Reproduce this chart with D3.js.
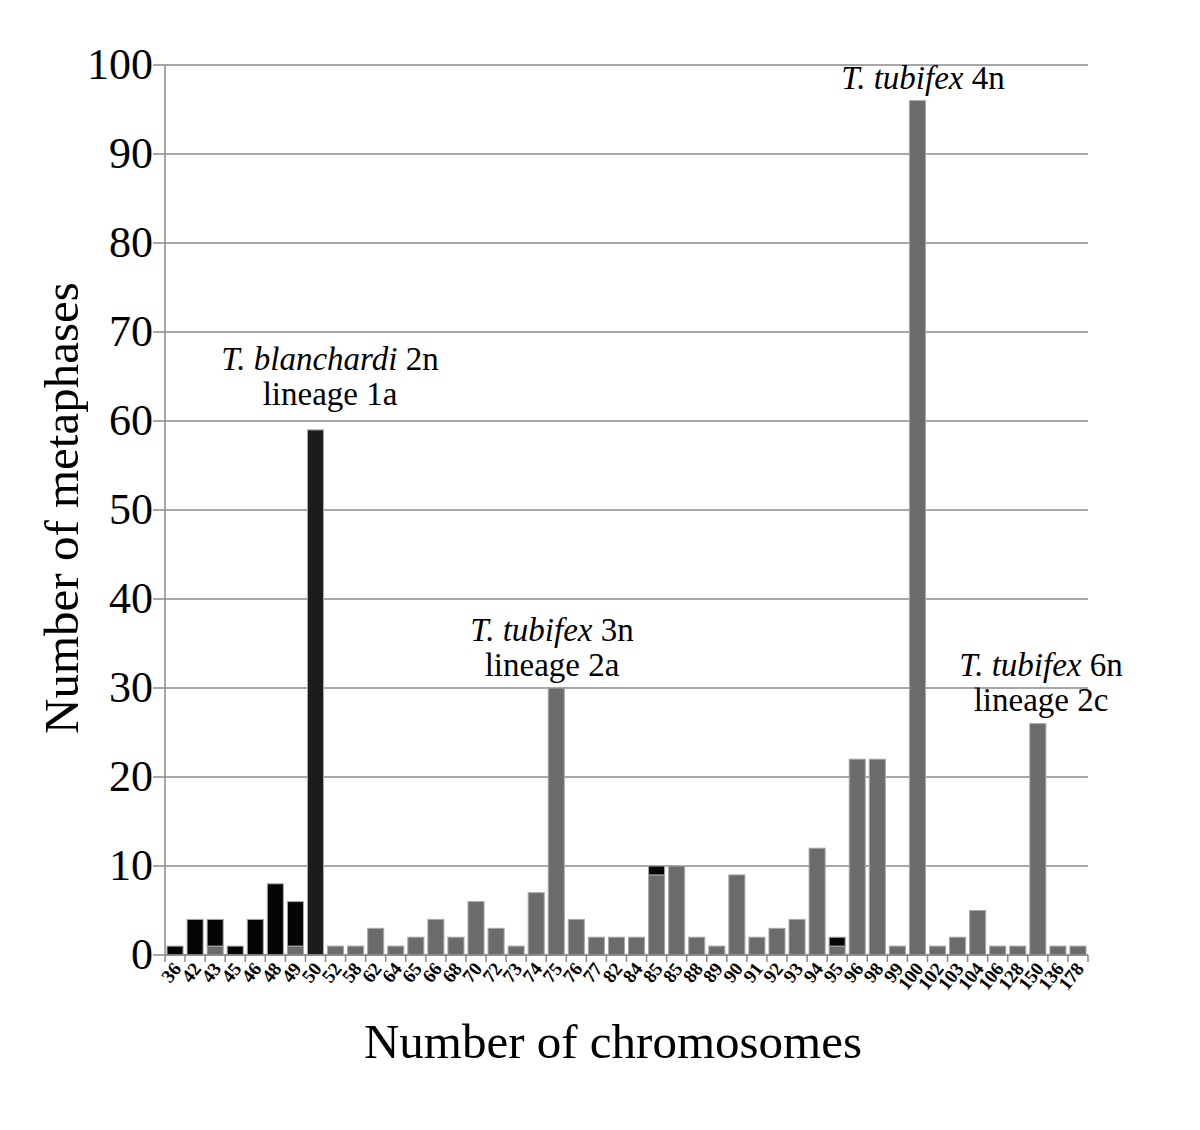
<!DOCTYPE html>
<html>
<head>
<meta charset="utf-8">
<script src="https://cdn.jsdelivr.net/npm/d3@7"></script>
<style>
body { margin: 0; background: #fff; }
text { font-family: "Liberation Serif", "Times New Roman", serif; }
</style>
</head>
<body>
<svg id="svg"></svg>
<script>
var width = 1200, height = 1130;

// chromosome counts as printed on the axis (85 appears twice)
var categories = ["36","42","43","45","46","48","49","50","52","58","62","64","65","66","68","70","72","73","74","75",
	"76","77","82","84","85","85","88","89","90","91","92","93","94","95","96","98","99","100","102","103",
	"104","106","128","150","136","178"];
// lineage 2 (T. tubifex), drawn at the bottom of each bar
var grayValues = [0,0,1,0,0,0,1,0,1,1,3,1,2,4,2,6,3,1,7,30,
	4,2,2,2,9,10,2,1,9,2,3,4,12,1,22,22,1,96,1,2,
	5,1,1,26,1,1];
// lineage 1 (T. blanchardi), stacked on top
var blackValues = [1,4,3,1,4,8,5,59,0,0,0,0,0,0,0,0,0,0,0,0,
	0,0,0,0,1,0,0,0,0,0,0,0,0,1,0,0,0,0,0,0,
	0,0,0,0,0,0];
var yTicks = [0,10,20,30,40,50,60,70,80,90,100];

var svg = d3.select("#svg")
	.attr("width", width)
	.attr("height", height);

var plotLeft = 165, plotRight = 1088, plotTop = 65, plotBottom = 955;

var x = d3.scaleBand()
	.domain(d3.range(categories.length))
	.range([plotLeft, plotRight])
	.paddingInner(0.2)
	.paddingOuter(0.1);
var y = d3.scaleLinear()
	.domain([0, 100])
	.range([plotBottom, plotTop]);
var idx = d3.range(categories.length);

// gridlines
svg.append("g")
	.selectAll("line")
	.data(yTicks)
	.enter()
	.append("line")
	.attr("x1", plotLeft - 12)
	.attr("x2", plotRight)
	.attr("y1", function(d) { return y(d); })
	.attr("y2", function(d) { return y(d); })
	.style("stroke", "#8a8a8a")
	.style("stroke-width", 1.5);

// y axis line
svg.append("line")
	.attr("x1", plotLeft).attr("x2", plotLeft)
	.attr("y1", plotTop).attr("y2", plotBottom)
	.style("stroke", "#8a8a8a")
	.style("stroke-width", 1.5);

// bars: gray part first, black part stacked on it
svg.append("g")
	.selectAll("rect")
	.data(idx.filter(function(i) { return grayValues[i] > 0; }))
	.enter()
	.append("rect")
	.attr("x", function(i) { return x(i); })
	.attr("width", x.bandwidth())
	.attr("y", function(i) { return y(grayValues[i]); })
	.attr("height", function(i) { return plotBottom - y(grayValues[i]); })
	.style("fill", "#6b6b6b")
	.style("stroke", "#a8a8a8")
	.style("stroke-width", 1);
svg.append("g")
	.selectAll("rect")
	.data(idx.filter(function(i) { return blackValues[i] > 0; }))
	.enter()
	.append("rect")
	.attr("x", function(i) { return x(i); })
	.attr("width", x.bandwidth())
	.attr("y", function(i) { return y(grayValues[i] + blackValues[i]); })
	.attr("height", function(i) { return y(grayValues[i]) - y(grayValues[i] + blackValues[i]); })
	.style("fill", function(i) { return i === 7 ? "#1c1c1c" : "#050505"; })
	.style("stroke", "#a8a8a8")
	.style("stroke-width", 1);

// x axis line and ticks between bands
svg.append("line")
	.attr("x1", plotLeft).attr("x2", plotRight)
	.attr("y1", plotBottom).attr("y2", plotBottom)
	.style("stroke", "#8a8a8a")
	.style("stroke-width", 1.5);
svg.append("g")
	.selectAll("line")
	.data(d3.range(categories.length + 1))
	.enter()
	.append("line")
	.attr("x1", function(i) { return plotLeft + i * x.step(); })
	.attr("x2", function(i) { return plotLeft + i * x.step(); })
	.attr("y1", plotBottom)
	.attr("y2", plotBottom + 7)
	.style("stroke", "#8a8a8a")
	.style("stroke-width", 1.5);

// x tick labels
svg.append("g")
	.selectAll("text")
	.data(idx)
	.enter()
	.append("text")
	.attr("transform", function(i) {
		return "translate(" + (x(i) + x.bandwidth() / 2 + 7) + "," + (plotBottom + 14) + ") rotate(-52)";
	})
	.style("text-anchor", "end")
	.style("font-size", "19px")
	.style("font-weight", "bold")
	.text(function(i) { return categories[i]; });

// y tick labels
svg.append("g")
	.selectAll("text")
	.data(yTicks)
	.enter()
	.append("text")
	.attr("x", plotLeft - 12)
	.attr("y", function(d) { return y(d) + 14; })
	.style("text-anchor", "end")
	.style("font-size", "44px")
	.text(function(d) { return d; });

// axis titles
svg.append("text")
	.attr("transform", "translate(78,508) rotate(-90)")
	.style("text-anchor", "middle")
	.style("font-size", "49px")
	.text("Number of metaphases");
svg.append("text")
	.attr("x", 613)
	.attr("y", 1058)
	.style("text-anchor", "middle")
	.style("font-size", "49px")
	.text("Number of chromosomes");

// peak annotations
function note(cx, cy, species, ploidy, lineage) {
	var t = svg.append("text")
		.attr("x", cx)
		.attr("y", cy)
		.style("text-anchor", "middle")
		.style("font-size", "33px");
	t.append("tspan").style("font-style", "italic").text(species);
	t.append("tspan").text(" " + ploidy);
	if (lineage) {
		svg.append("text")
			.attr("x", cx)
			.attr("y", cy + 35)
			.style("text-anchor", "middle")
			.style("font-size", "33px")
			.text(lineage);
	}
}
note(330, 370, "T. blanchardi", "2n", "lineage 1a");
note(552, 641, "T. tubifex", "3n", "lineage 2a");
note(923, 89, "T. tubifex", "4n", null);
note(1041, 676, "T. tubifex", "6n", "lineage 2c");
</script>
</body>
</html>
